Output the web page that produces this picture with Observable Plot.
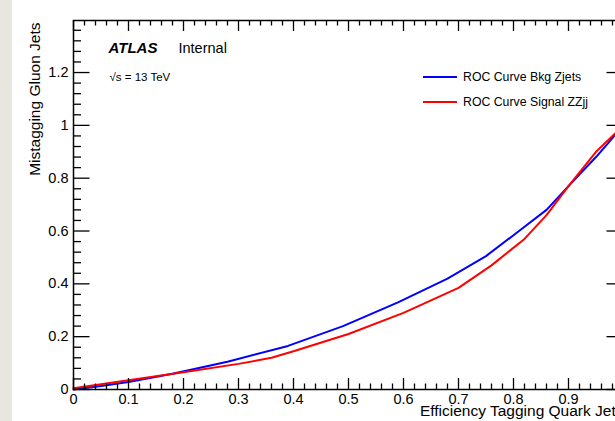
<!DOCTYPE html>
<html>
<head>
<meta charset="utf-8">
<script src="https://cdn.jsdelivr.net/npm/d3@7"></script>
<script src="https://cdn.jsdelivr.net/npm/@observablehq/plot@0.6"></script>
<style>
  html, body { margin: 0; padding: 0; width: 615px; height: 421px; overflow: hidden; background: #e9e6e0; }
  #page { position: absolute; left: 12px; top: 0; width: 603px; height: 421px; background: #fff; }
  #chart { position: absolute; left: 0; top: 0; width: 640px; }
  #chart svg { max-width: none !important; }
  #legend { position: absolute; left: 423px; top: 64px; font-family: "Liberation Sans", Arial, sans-serif; font-size: 12.3px; color: #000; }
  #legend .row { display: flex; align-items: center; height: 25px; }
  #legend .sw { width: 34px; height: 2px; margin-right: 6px; }
  svg text { font-family: "Liberation Sans", Arial, sans-serif; }
</style>
</head>
<body>
<div id="page"></div>
<div id="chart"></div>
<div id="legend"></div>
<script>
// ---- data ----
const bkgEff  = [0, 0.05, 0.1, 0.18, 0.28, 0.39, 0.49, 0.59, 0.68, 0.75, 0.81, 0.86, 0.9, 0.95, 1.0];
const bkgMis  = [0, 0.013, 0.028, 0.06, 0.105, 0.165, 0.24, 0.33, 0.42, 0.505, 0.6, 0.68, 0.77, 0.88, 1.0];
const sigEff  = [0, 0.05, 0.1, 0.2, 0.3, 0.36, 0.4, 0.5, 0.6, 0.7, 0.76, 0.82, 0.86, 0.9, 0.95, 1.0];
const sigMis  = [0.005, 0.02, 0.035, 0.065, 0.097, 0.12, 0.145, 0.21, 0.29, 0.385, 0.47, 0.57, 0.66, 0.77, 0.9, 1.0];
const seriesNames = ["ROC Curve Bkg Zjets", "ROC Curve Signal ZZjj"];
const seriesColors = ["#0000ff", "#ff0000"];
const xMajor = d3.range(0, 11).map(i => i / 10);
const xMinor = d3.range(0, 51).map(i => i / 50).filter((d, i) => i % 5 !== 0);
const yMajor = d3.range(0, 7).map(i => i / 5);
const yMinor = d3.range(0, 35).map(i => i / 25).filter((d, i) => i % 5 !== 0);
const xTitle = "Efficiency Tagging Quark Jets";
const yTitle = "Mistagging Gluon Jets";

const rows = [
  ...bkgEff.map((x, i) => ({x, y: bkgMis[i], s: seriesNames[0]})),
  ...sigEff.map((x, i) => ({x, y: sigMis[i], s: seriesNames[1]}))
];

const W = 640, H = 421, mL = 73, mR = 17, mT = 20, mB = 32;
const fw = W - mL - mR, fh = H - mT - mB;
const fmt = d => String(+d.toFixed(1));

const plot = Plot.plot({
  width: W, height: H,
  marginLeft: mL, marginRight: mR, marginTop: mT, marginBottom: mB,
  style: {background: "transparent", fontFamily: "Liberation Sans, Arial, sans-serif", maxWidth: "none"},
  x: {domain: [0, 1], axis: null},
  y: {domain: [0, 1.397], axis: null},
  color: {domain: seriesNames, range: seriesColors},
  marks: [
    // curves
    Plot.line(rows, {x: "x", y: "y", z: "s", stroke: "s", strokeWidth: 2}),
    // ticks bottom
    Plot.tickX(xMajor, {x: d => d, insetTop: fh - 11, stroke: "#000", strokeWidth: 1.3}),
    Plot.tickX(xMinor, {x: d => d, insetTop: fh - 5.5, stroke: "#000", strokeWidth: 1.3}),
    // ticks top
    Plot.tickX(xMajor, {x: d => d, insetBottom: fh - 11, stroke: "#000", strokeWidth: 1.3}),
    Plot.tickX(xMinor, {x: d => d, insetBottom: fh - 5.5, stroke: "#000", strokeWidth: 1.3}),
    // ticks left
    Plot.tickY(yMajor, {y: d => d, insetRight: fw - 16.5, stroke: "#000", strokeWidth: 1.3}),
    Plot.tickY(yMinor, {y: d => d, insetRight: fw - 8, stroke: "#000", strokeWidth: 1.3}),
    // ticks right
    Plot.tickY(yMajor, {y: d => d, insetLeft: fw - 16.5, stroke: "#000", strokeWidth: 1.3}),
    Plot.tickY(yMinor, {y: d => d, insetLeft: fw - 8, stroke: "#000", strokeWidth: 1.3}),
    Plot.frame({stroke: "#000", strokeWidth: 1.5}),
    // tick labels
    Plot.axisX(xMajor, {anchor: "bottom", label: null, tickSize: 0, tickPadding: 4, tickFormat: fmt, fontSize: 14.5, fill: "#000"}),
    Plot.axisY(yMajor, {anchor: "left", label: null, tickSize: 0, tickPadding: 5, tickFormat: fmt, fontSize: 14.5, fill: "#000"}),
    // axis titles
    Plot.text([yTitle], {text: d => d, frameAnchor: "top-left", rotate: -90, textAnchor: "end", dx: -45, dy: 2, fontSize: 15.5, fill: "#000"}),
    Plot.text([xTitle], {text: d => d, frameAnchor: "bottom-right", textAnchor: "end", dy: 26, fontSize: 15.5, fill: "#000"}),
    // ATLAS label
    Plot.text(["ATLAS"], {text: d => d, frameAnchor: "top-left", textAnchor: "start", dx: 35, dy: 22, fontSize: 15, fontWeight: "bold", fontStyle: "italic", fill: "#000"}),
    Plot.text(["Internal"], {text: d => d, frameAnchor: "top-left", textAnchor: "start", dx: 105, dy: 22, fontSize: 14.5, fill: "#000"}),
    Plot.text(["√s = 13 TeV"], {text: d => d, frameAnchor: "top-left", textAnchor: "start", dx: 36, dy: 52, fontSize: 11.5, fill: "#000"})
  ]
});
document.getElementById("chart").appendChild(plot);

const legend = document.getElementById("legend");
seriesNames.forEach((n, i) => {
  const r = document.createElement("div");
  r.className = "row";
  r.innerHTML = `<div class="sw" style="background:${seriesColors[i]}"></div><span>${n}</span>`;
  legend.appendChild(r);
});
</script>
</body>
</html>
